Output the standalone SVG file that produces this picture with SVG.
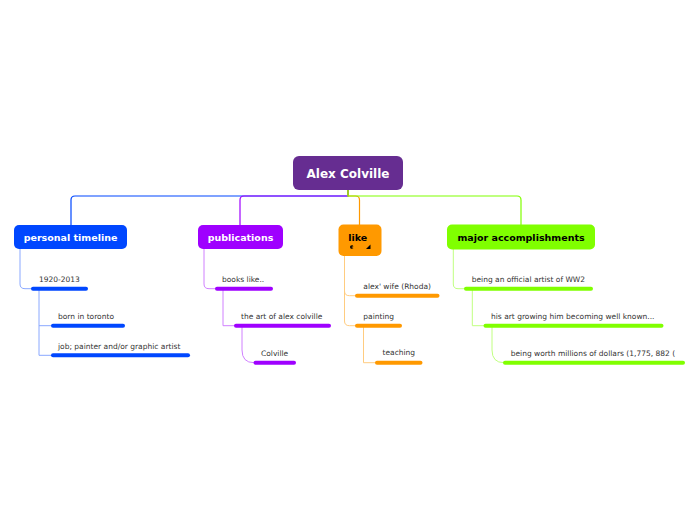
<svg xmlns="http://www.w3.org/2000/svg" width="696" height="520" viewBox="0 0 696 520">
<style>
.nt{font-family:"DejaVu Sans",Verdana,sans-serif;font-weight:bold;font-size:9.5px}
.ct{font-family:"DejaVu Sans",Verdana,sans-serif;font-size:7.5px;fill:#333}
.bar{stroke-width:4;stroke-linecap:round;fill:none}
.mc{fill:none;stroke-width:1.2}
.sc{fill:none;stroke-width:1}
</style>
<rect width="696" height="520" fill="#fff"/>
<g id="connectors">
<path class="mc" stroke="#0047ff" d="M348,190 V196 H75 Q71,196 71,200 V225"/>
<path class="mc" stroke="#9f00ff" d="M348,190 V196 H244 Q240,196 240,200 V225"/>
<path class="mc" stroke="#ff9900" d="M348,190 V196 H355.5 Q359.5,196 359.5,200 V225"/>
<path class="mc" stroke="#80ff00" d="M348,190 V196 H517 Q521,196 521,200 V225"/>
<path class="sc" stroke="#8aa8ff" d="M20,249 V284 Q20,288.7 25,288.7 H32"/>
<path class="sc" stroke="#8aa8ff" d="M39,290 V355.3 H52 M39,325.7 H52"/>
<path class="sc" stroke="#d080ff" d="M204,249 V284 Q204,288.7 209,288.7 H216"/>
<path class="sc" stroke="#d080ff" d="M223,290 V325.7 H235"/>
<path class="sc" stroke="#d080ff" d="M242,327 V350 Q242,362.7 254,362.7"/>
<path class="sc" stroke="#ffcc80" d="M344.5,256 V291 Q344.5,295.7 349.5,295.7 H356 M344.5,291 V321 Q344.5,325.7 349.5,325.7 H356"/>
<path class="sc" stroke="#ffcc80" d="M363.5,327 V362.7 H376"/>
<path class="sc" stroke="#c0ff80" d="M453.3,249 V284 Q453.3,288.7 458,288.7 H465"/>
<path class="sc" stroke="#c0ff80" d="M472.3,290 V325.7 H485"/>
<path class="sc" stroke="#c0ff80" d="M492,327 V350 Q492,362.7 504,362.7"/>
</g>
<g id="root">
<rect x="293" y="156" width="110" height="34" rx="6" fill="#662d91"/>
<text x="348" y="177.5" text-anchor="middle" class="nt" style="font-size:12px" fill="#fff">Alex Colville</text>
</g>
<g id="personal-timeline">
<rect x="14" y="225" width="113" height="24" rx="5" fill="#0047ff"/>
<text x="70.5" y="240.5" text-anchor="middle" class="nt" fill="#fff">personal timeline</text>
</g>
<g id="publications">
<rect x="198" y="225" width="85" height="24" rx="5" fill="#9f00ff"/>
<text x="240.5" y="240.5" text-anchor="middle" class="nt" fill="#fff">publications</text>
</g>
<g id="like">
<rect x="338.5" y="224.5" width="43" height="31.5" rx="5" fill="#ff9900"/>
<text x="348.3" y="240.5" class="nt" fill="#000">like</text>
<path d="M350,247 Q350,245 352.5,245.3 L353.5,246.2 L351.2,247 L353.5,248 Q352,249.2 350.6,248.4 Z" fill="#000"/>
<path d="M366,249 L370.5,244.5 L370.5,249 Z" fill="#000"/>
</g>
<g id="major-accomplishments">
<rect x="447" y="224.5" width="148" height="25" rx="5" fill="#80ff00"/>
<text x="521" y="240.5" text-anchor="middle" class="nt" fill="#000">major accomplishments</text>
</g>
<g id="t-1920">
<text x="39" y="282" class="ct">1920-2013</text>
<path class="bar" stroke="#0047ff" d="M33,288.7 H86"/>
</g>
<g id="t-born">
<text x="58" y="319" class="ct">born in toronto</text>
<path class="bar" stroke="#0047ff" d="M53,325.7 H123"/>
</g>
<g id="t-job">
<text x="58" y="348.7" class="ct">job; painter and/or graphic artist</text>
<path class="bar" stroke="#0047ff" d="M53,355.3 H188"/>
</g>
<g id="p-books">
<text x="222" y="282" class="ct">books like..</text>
<path class="bar" stroke="#9f00ff" d="M217,288.7 H271"/>
</g>
<g id="p-art">
<text x="241" y="319" class="ct">the art of alex colville</text>
<path class="bar" stroke="#9f00ff" d="M236,325.7 H329"/>
</g>
<g id="p-colville">
<text x="261" y="356" class="ct">Colville</text>
<path class="bar" stroke="#9f00ff" d="M255.5,362.7 H294"/>
</g>
<g id="l-wife">
<text x="363.3" y="289" class="ct">alex' wife (Rhoda)</text>
<path class="bar" stroke="#ff9900" d="M357,295.7 H437.5"/>
</g>
<g id="l-painting">
<text x="363.3" y="319" class="ct">painting</text>
<path class="bar" stroke="#ff9900" d="M357,325.7 H400"/>
</g>
<g id="l-teaching">
<text x="382.5" y="355" class="ct">teaching</text>
<path class="bar" stroke="#ff9900" d="M377,362.7 H420.5"/>
</g>
<g id="m-ww2">
<text x="471.7" y="282" class="ct">being an official artist of WW2</text>
<path class="bar" stroke="#80ff00" d="M466,288.7 H591"/>
</g>
<g id="m-known">
<text x="491" y="319" class="ct">his art growing him becoming well known...</text>
<path class="bar" stroke="#80ff00" d="M485.5,325.7 H661.5"/>
</g>
<g id="m-worth">
<text x="510.7" y="356" class="ct">being worth millions of dollars (1,775, 882 (</text>
<path class="bar" stroke="#80ff00" d="M505,362.7 H683"/>
</g>
</svg>
